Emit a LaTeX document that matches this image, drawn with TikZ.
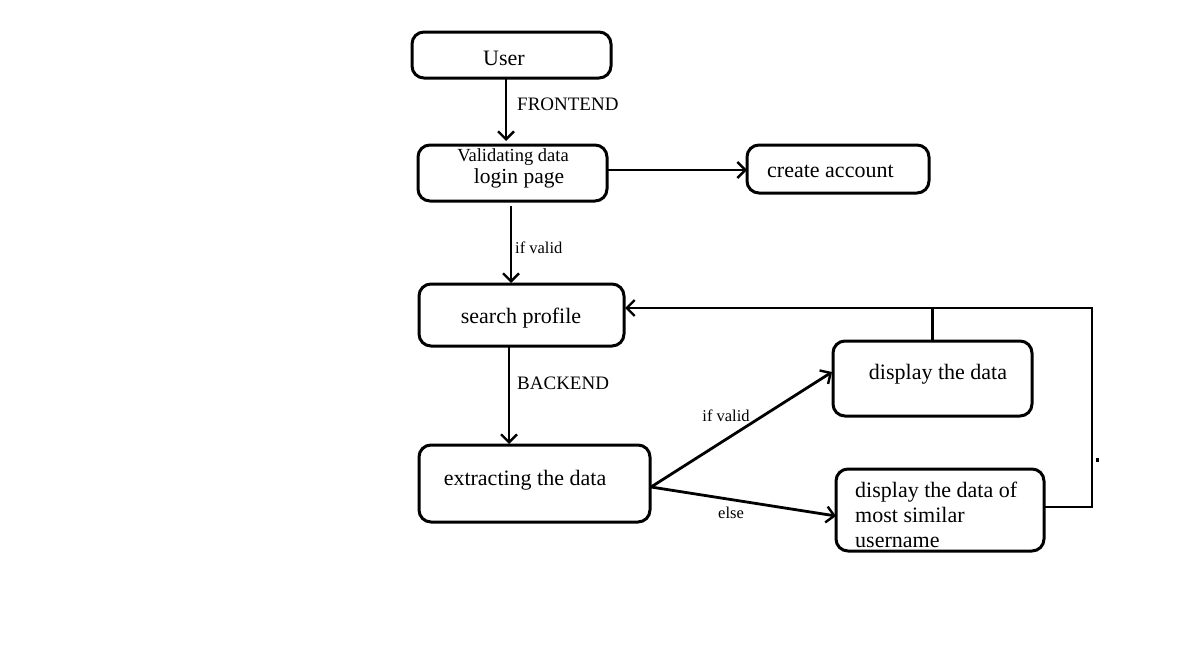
\documentclass[tikz,border=0pt]{standalone}
\usepackage{fontspec}
\setmainfont{Liberation Serif}
\usetikzlibrary{arrows.meta}
\begin{document}
\begin{tikzpicture}[x=1pt,y=-1pt,
  box/.style={draw,line width=3pt,rounded corners=12pt,inner sep=0pt},
  conn/.style={line width=2.8pt,-{Straight Barb[length=8pt,width=16pt,line width=2.4pt]}},
  plain/.style={line width=3pt},
  lbl/.style={font=\fontsize{19}{22}\selectfont,inner sep=0pt,anchor=west},
  sml/.style={font=\fontsize{16.5}{20}\selectfont,inner sep=0pt},
  txt/.style={font=\fontsize{22}{26}\selectfont,inner sep=0pt}]
\useasboundingbox (0,0) rectangle (1198,648);
\fill[white] (0,0) rectangle (1198,648);
% boxes
\node[box,minimum width=199pt,minimum height=46pt] (user) at (511.5,55) {};
\node[txt] at (504,58) {User};
\node[box,minimum width=189pt,minimum height=56pt] (valid) at (512.5,173) {};
\node[font=\fontsize{18.5}{22}\selectfont,inner sep=0pt] at (513,157) {Validating data};
\node[font=\fontsize{21.5}{26}\selectfont,inner sep=0pt] at (519,178) {login page};
\node[box,minimum width=182pt,minimum height=48pt] (create) at (838,169) {};
\node[txt,anchor=west] at (767,171) {create account};
\node[box,minimum width=205pt,minimum height=62pt] (search) at (521.5,315) {};
\node[txt] at (521,318) {search profile};
\node[box,minimum width=231pt,minimum height=77pt] (extract) at (534.5,483.5) {};
\node[txt] at (525,480) {extracting the data};
\node[box,minimum width=199pt,minimum height=75pt] (disp) at (932.5,378.5) {};
\node[txt] at (938,374) {display the data};
\node[box,minimum width=208pt,minimum height=82pt] (sim) at (940,510) {};
\node[txt,anchor=west,align=left,font=\fontsize{22}{25}\selectfont] at (855,515) {display the data of\\most similar\\username};
% connectors
\coordinate (a1) at (506,78); \coordinate (a2) at (506,141);
\draw[conn] (a1) -- (a2);
\node[lbl] at (517,104) {FRONTEND};
\coordinate (b1) at (607,170); \coordinate (b2) at (747,170);
\draw[conn] (b1) -- (b2);
\coordinate (c1) at (511,206); \coordinate (c2) at (511,283);
\draw[conn] (c1) -- (c2);
\node[sml,anchor=west] at (515,248) {if valid};
\coordinate (d1) at (509,347); \coordinate (d2) at (509,444);
\draw[conn] (d1) -- (d2);
\node[lbl] at (517,383) {BACKEND};
\coordinate (e0) at (651,487);
\coordinate (e1) at (832,372);
\coordinate (e2) at (836,516);
\draw[conn] (e0) -- (e1);
\draw[conn] (e0) -- (e2);
\node[sml] at (726,416) {if valid};
\node[sml] at (731,513) {else};
% feedback loop
\coordinate (f1) at (1045,507);
\coordinate (f2) at (1092,507);
\coordinate (f3) at (1092,308);
\coordinate (f4) at (625,308);
\coordinate (g1) at (932,341);
\coordinate (g2) at (932,308);
\draw[conn] (f1) -- (f2) -- (f3) -- (f4);
\draw[plain] (g1) -- (g2);
\fill (1096,458) rectangle (1099,462);
\end{tikzpicture}
\end{document}
